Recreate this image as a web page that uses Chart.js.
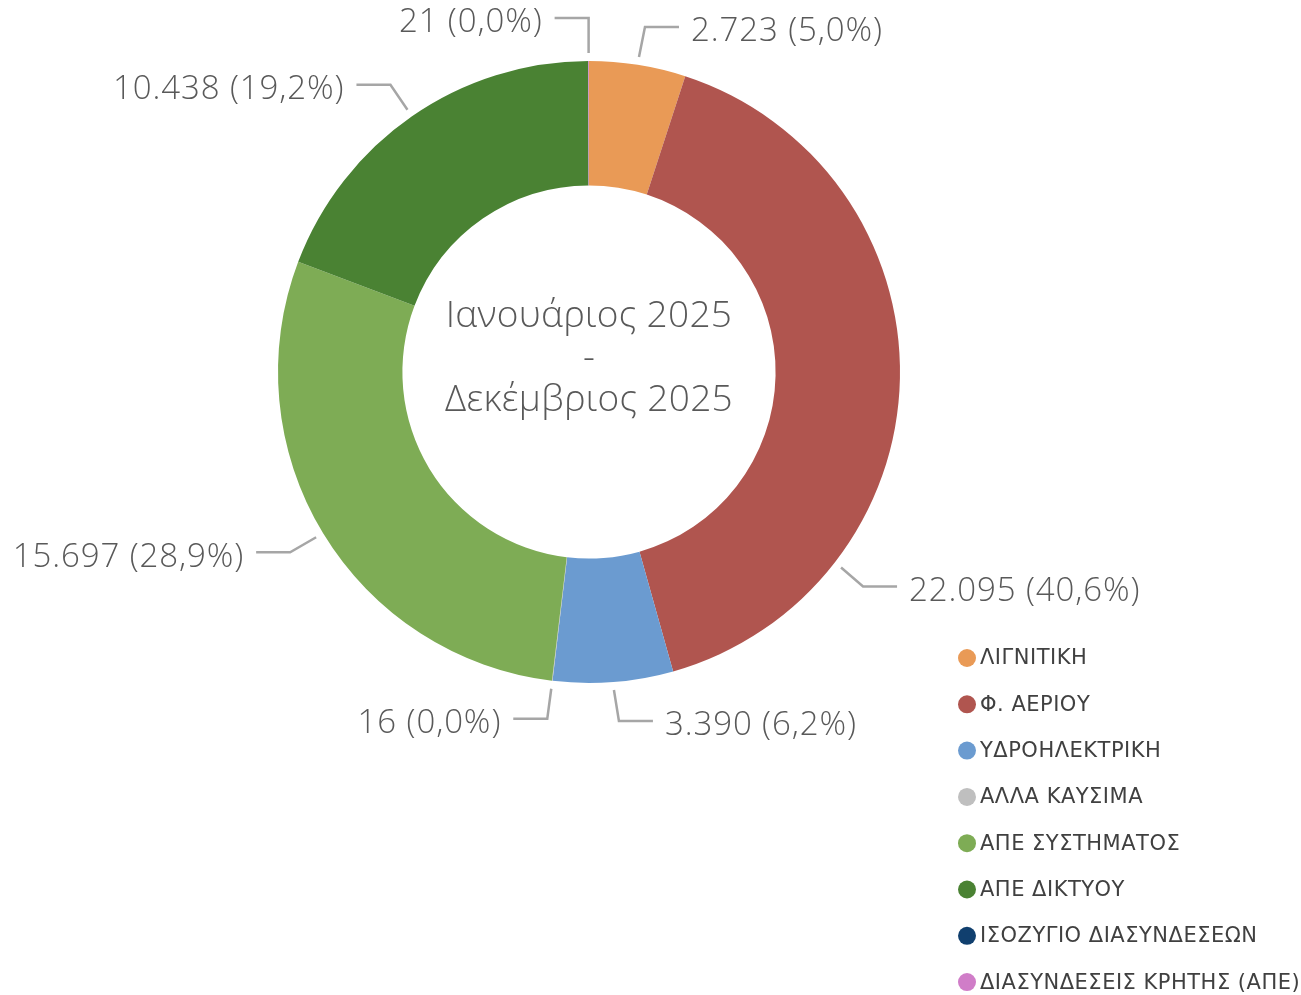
<!DOCTYPE html>
<html>
<head>
<meta charset="utf-8">
<script src="https://cdn.jsdelivr.net/npm/chart.js@4/dist/chart.umd.min.js"></script>
<style>
  html, body { margin: 0; padding: 0; background: #ffffff; }
  #wrap { width: 1301px; height: 995px; position: relative; }
</style>
</head>
<body>
<div id="wrap"><canvas id="c" width="1301" height="995"></canvas></div>
<script>
// ---- data ----
const categories = ["ΛΙΓΝΙΤΙΚΗ", "Φ. ΑΕΡΙΟΥ", "ΥΔΡΟΗΛΕΚΤΡΙΚΗ", "ΑΛΛΑ ΚΑΥΣΙΜΑ", "ΑΠΕ ΣΥΣΤΗΜΑΤΟΣ", "ΑΠΕ ΔΙΚΤΥΟΥ", "ΙΣΟΖΥΓΙΟ ΔΙΑΣΥΝΔΕΣΕΩΝ", "ΔΙΑΣΥΝΔΕΣΕΙΣ ΚΡΗΤΗΣ (ΑΠΕ)"];
const values = [2723, 22095, 3390, 16, 15697, 10438, 0, 21];
const centerLines = ["Ιανουάριος 2025", "-", "Δεκέμβριος 2025"];

// ---- styles ----
const colors = ["#E99A56", "#B0554F", "#6B9BD0", "#BFBFBF", "#7EAC55", "#4A8233", "#103F6E", "#D07DC8"];
// label leader layout: anchor angle override (deg clockwise from top, null = slice middle), elbow offset, side
const labelLayout = [
  { anchor: null, dx: 6,   dy: -30, side: 1 },
  { anchor: 127.8, dx: 22, dy: 19,  side: 1 },
  { anchor: null, dx: 5,   dy: 31,  side: 1 },
  { anchor: null, dx: -4,  dy: 30,  side: -1 },
  { anchor: null, dx: -26, dy: 15,  side: -1 },
  { anchor: null, dx: -17, dy: -25, side: -1 },
  null,
  { anchor: null, dx: 0,   dy: -35, side: -1 }
];

function fmtNum(v) {
  return String(v).replace(/\B(?=(\d{3})+(?!\d))/g, ".");
}
function fmtPct(v, total) {
  return (v / total * 100).toFixed(1).replace(".", ",") + "%";
}

const labelPlugin = {
  id: "leaderLabels",
  afterDatasetsDraw(chart) {
    const ctx = chart.ctx;
    const meta = chart.getDatasetMeta(0);
    const data = chart.data.datasets[0].data;
    const total = data.reduce((a, b) => a + b, 0);
    ctx.save();
    meta.data.forEach((arc, i) => {
      const lay = labelLayout[i];
      if (!lay || data[i] === 0) return;
      const p = arc.getProps(["x", "y", "startAngle", "endAngle", "outerRadius"], true);
      let a = (p.startAngle + p.endAngle) / 2;
      if (lay.anchor !== null) a = (lay.anchor - 90) * Math.PI / 180;
      const r = p.outerRadius + 8;
      const ax = p.x + r * Math.cos(a), ay = p.y + r * Math.sin(a);
      const ex = ax + lay.dx, ey = ay + lay.dy;
      const hx = ex + lay.side * 34;
      ctx.strokeStyle = "#A6A6A6";
      ctx.lineWidth = 2.5;
      ctx.lineJoin = "miter";
      ctx.beginPath();
      ctx.moveTo(ax, ay);
      ctx.lineTo(ex, ey);
      ctx.lineTo(hx, ey);
      ctx.stroke();
      ctx.fillStyle = "#595959";
      ctx.font = "300 33px 'Open Sans', 'Lato', sans-serif";
      ctx.letterSpacing = "0.9px";
      ctx.textBaseline = "middle";
      ctx.textAlign = lay.side > 0 ? "left" : "right";
      const txt = fmtNum(data[i]) + " (" + fmtPct(data[i], total) + ")";
      ctx.fillText(txt, hx + lay.side * 12, ey + 5);
    });
    ctx.restore();
  }
};

const centerPlugin = {
  id: "centerText",
  afterDatasetsDraw(chart) {
    const ctx = chart.ctx;
    const arc = chart.getDatasetMeta(0).data[0];
    const cx = arc.x, cy = arc.y;
    ctx.save();
    ctx.fillStyle = "#595959";
    ctx.font = "300 37px 'Open Sans', 'Lato', sans-serif";
    ctx.letterSpacing = "0.3px";
    ctx.textAlign = "center";
    ctx.textBaseline = "middle";
    const gap = 42;
    centerLines.forEach((t, k) => {
      ctx.fillText(t, cx, cy - 14 - gap + k * gap);
    });
    ctx.restore();
  }
};

const legendPlugin = {
  id: "cornerLegend",
  afterDraw(chart) {
    const ctx = chart.ctx;
    const labels = chart.data.labels;
    const bg = chart.data.datasets[0].backgroundColor;
    ctx.save();
    ctx.font = "400 21px 'DejaVu Sans', sans-serif";
    ctx.letterSpacing = "0.5px";
    ctx.textBaseline = "middle";
    ctx.textAlign = "left";
    labels.forEach((lab, i) => {
      const y = 658 + i * 46.3;
      ctx.fillStyle = bg[i];
      ctx.beginPath();
      ctx.arc(967, y, 9, 0, Math.PI * 2);
      ctx.fill();
      ctx.fillStyle = "#404040";
      ctx.fillText(lab, 980, y + 1);
    });
    ctx.restore();
  }
};

new Chart(document.getElementById("c"), {
  type: "doughnut",
  data: {
    labels: categories,
    datasets: [{
      data: values,
      backgroundColor: colors,
      borderWidth: 0,
      hoverOffset: 0
    }]
  },
  options: {
    responsive: false,
    animation: false,
    cutout: "60%",
    layout: { padding: { left: 278, right: 401, top: 61, bottom: 312 } },
    plugins: {
      legend: { display: false },
      tooltip: { enabled: false }
    }
  },
  plugins: [labelPlugin, centerPlugin, legendPlugin]
});
</script>
</body>
</html>
